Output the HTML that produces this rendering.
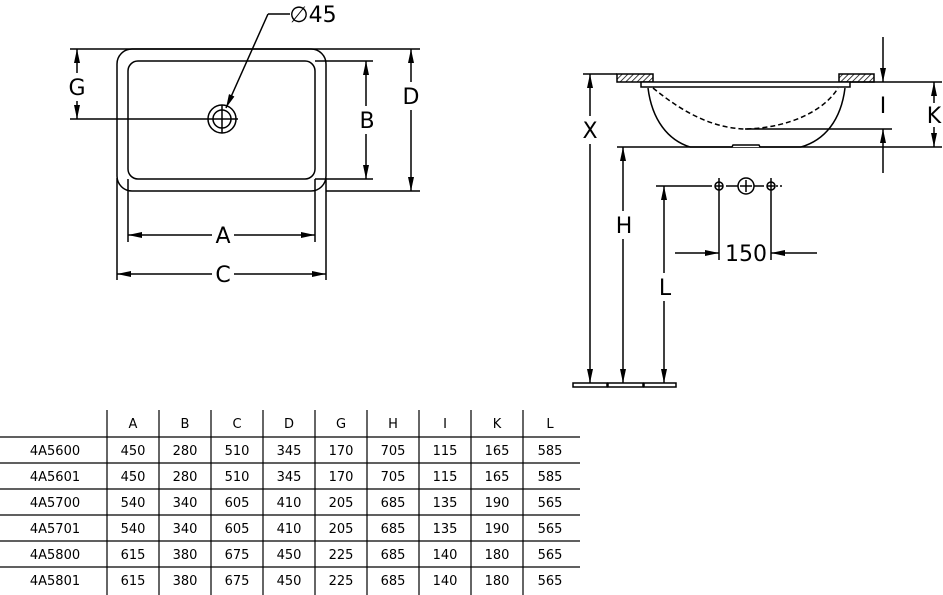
<!DOCTYPE html>
<html><head><meta charset="utf-8"><style>
html,body{margin:0;padding:0;background:#fff;}
svg{display:block;}
text{font-family:"DejaVu Sans","Liberation Sans",sans-serif;fill:#000;}
</style></head><body>
<svg width="943" height="595" viewBox="0 0 943 595" xmlns="http://www.w3.org/2000/svg">
<defs>
<marker id="ar" viewBox="0 0 14 6" refX="14" refY="3" markerWidth="14" markerHeight="6" markerUnits="userSpaceOnUse" orient="auto-start-reverse"><path d="M0,0 L14,3 L0,6 z" fill="#000"/></marker>
<pattern id="hatch" width="4" height="4" patternUnits="userSpaceOnUse" patternTransform="rotate(45)"><line x1="0" y1="0" x2="0" y2="4" stroke="#000" stroke-width="1.5"/></pattern>
</defs>
<g stroke="#000" stroke-width="1.5" fill="none">
<!-- Plan view -->
<line x1="70" y1="49" x2="420" y2="49"/>
<rect x="117" y="49" width="209" height="142" rx="15"/>
<rect x="128" y="61" width="187" height="118" rx="10"/>
<line x1="315" y1="61" x2="373" y2="61"/>
<line x1="315" y1="179" x2="373" y2="179"/>
<line x1="326" y1="191" x2="420" y2="191"/>
<line x1="128" y1="179" x2="128" y2="242"/>
<line x1="315" y1="179" x2="315" y2="242"/>
<line x1="117" y1="178" x2="117" y2="280"/>
<line x1="326" y1="178" x2="326" y2="280"/>
<line x1="128" y1="235" x2="212" y2="235" marker-start="url(#ar)"/>
<line x1="234" y1="235" x2="315" y2="235" marker-end="url(#ar)"/>
<line x1="117" y1="274" x2="212" y2="274" marker-start="url(#ar)"/>
<line x1="234" y1="274" x2="326" y2="274" marker-end="url(#ar)"/>
<line x1="366" y1="61" x2="366" y2="106" marker-start="url(#ar)"/>
<line x1="366" y1="134" x2="366" y2="179" marker-end="url(#ar)"/>
<line x1="411" y1="49" x2="411" y2="82" marker-start="url(#ar)"/>
<line x1="411" y1="110" x2="411" y2="191" marker-end="url(#ar)"/>
<line x1="77" y1="49" x2="77" y2="73" marker-start="url(#ar)"/>
<line x1="77" y1="101" x2="77" y2="119" marker-end="url(#ar)"/>
<line x1="70" y1="119" x2="238" y2="119"/>
<circle cx="222" cy="119" r="14"/>
<circle cx="222" cy="119" r="9"/>
<line x1="222" y1="105" x2="222" y2="133"/>
<line x1="268" y1="14" x2="290" y2="14"/>
<line x1="268" y1="14" x2="226" y2="108" marker-end="url(#ar)"/>
<!-- Side view -->
<line x1="583" y1="74" x2="617" y2="74"/>
<rect x="617" y="74" width="36" height="8" fill="url(#hatch)"/>
<rect x="839" y="74" width="35" height="8" fill="url(#hatch)"/>
<line x1="850" y1="82" x2="942" y2="82"/>
<path d="M648,88 C652,120 668,140 690,147"/>
<path d="M845,88 C841,120 825,140 801,147"/>
<line x1="617" y1="147" x2="942" y2="147"/>
<path d="M690,147 L732,147 L733,145 L759,145 L760,147 L801,147" fill="#fff"/>
<rect x="641" y="82" width="209" height="5" fill="#fff"/>
<path d="M653,88 C680,110 710,128 745,129 C790,128 825,110 838,88" stroke-dasharray="5,3"/>
<line x1="745" y1="129" x2="892" y2="129"/>
<line x1="883" y1="37" x2="883" y2="82" marker-end="url(#ar)"/>
<line x1="883" y1="173" x2="883" y2="129" marker-end="url(#ar)"/>
<line x1="934" y1="82" x2="934" y2="103" marker-start="url(#ar)"/>
<line x1="934" y1="127" x2="934" y2="147" marker-end="url(#ar)"/>
<line x1="590" y1="74" x2="590" y2="116" marker-start="url(#ar)"/>
<line x1="590" y1="144" x2="590" y2="383" marker-end="url(#ar)"/>
<line x1="623" y1="147" x2="623" y2="211" marker-start="url(#ar)"/>
<line x1="623" y1="239" x2="623" y2="383" marker-end="url(#ar)"/>
<line x1="664" y1="186" x2="664" y2="273" marker-start="url(#ar)"/>
<line x1="664" y1="301" x2="664" y2="383" marker-end="url(#ar)"/>
<line x1="656" y1="186" x2="712" y2="186"/>
<line x1="726" y1="186" x2="738" y2="186"/>
<line x1="754" y1="186" x2="764" y2="186"/>
<line x1="776" y1="186" x2="782" y2="186" stroke-dasharray="2,2"/>
<circle cx="719" cy="186" r="4"/>
<circle cx="771" cy="186" r="4"/>
<circle cx="746" cy="186" r="8"/>
<line x1="719" y1="178" x2="719" y2="260"/>
<line x1="771" y1="178" x2="771" y2="260"/>
<line x1="715" y1="186" x2="723" y2="186"/>
<line x1="767" y1="186" x2="775" y2="186"/>
<line x1="740" y1="186" x2="752" y2="186"/>
<line x1="746" y1="180" x2="746" y2="192"/>
<line x1="675" y1="253" x2="719" y2="253" marker-end="url(#ar)"/>
<line x1="817" y1="253" x2="771" y2="253" marker-end="url(#ar)"/>
<rect x="573" y="383" width="34" height="4"/>
<rect x="608" y="383" width="35" height="4"/>
<rect x="644" y="383" width="32" height="4"/>
<!-- table -->
<g stroke-width="1.2">
<line x1="0" y1="437" x2="580" y2="437"/>
<line x1="0" y1="463" x2="580" y2="463"/>
<line x1="0" y1="489" x2="580" y2="489"/>
<line x1="0" y1="515" x2="580" y2="515"/>
<line x1="0" y1="541" x2="580" y2="541"/>
<line x1="0" y1="567" x2="580" y2="567"/>
<line x1="107" y1="410" x2="107" y2="595"/>
<line x1="159" y1="410" x2="159" y2="595"/>
<line x1="211" y1="410" x2="211" y2="595"/>
<line x1="263" y1="410" x2="263" y2="595"/>
<line x1="315" y1="410" x2="315" y2="595"/>
<line x1="367" y1="410" x2="367" y2="595"/>
<line x1="419" y1="410" x2="419" y2="595"/>
<line x1="471" y1="410" x2="471" y2="595"/>
<line x1="523" y1="410" x2="523" y2="595"/>
</g>
</g>
<g font-size="22" text-anchor="middle">
<text x="223" y="243">A</text>
<text x="223" y="282">C</text>
<text x="367" y="128">B</text>
<text x="411" y="104">D</text>
<text x="77" y="95">G</text>
<text x="590" y="138">X</text>
<text x="624" y="233">H</text>
<text x="665" y="295">L</text>
<text x="883" y="113">I</text>
<text x="934" y="123">K</text>
<text x="746" y="261">150</text>
<text x="313" y="22">∅45</text>
</g>
<g font-size="13" text-anchor="middle">
<text x="133" y="428">A</text><text x="185" y="428">B</text><text x="237" y="428">C</text><text x="289" y="428">D</text><text x="341" y="428">G</text><text x="393" y="428">H</text><text x="445" y="428">I</text><text x="497" y="428">K</text><text x="550" y="428">L</text>
<text x="55" y="455">4A5600</text><text x="133" y="455">450</text><text x="185" y="455">280</text><text x="237" y="455">510</text><text x="289" y="455">345</text><text x="341" y="455">170</text><text x="393" y="455">705</text><text x="445" y="455">115</text><text x="497" y="455">165</text><text x="550" y="455">585</text>
<text x="55" y="481">4A5601</text><text x="133" y="481">450</text><text x="185" y="481">280</text><text x="237" y="481">510</text><text x="289" y="481">345</text><text x="341" y="481">170</text><text x="393" y="481">705</text><text x="445" y="481">115</text><text x="497" y="481">165</text><text x="550" y="481">585</text>
<text x="55" y="507">4A5700</text><text x="133" y="507">540</text><text x="185" y="507">340</text><text x="237" y="507">605</text><text x="289" y="507">410</text><text x="341" y="507">205</text><text x="393" y="507">685</text><text x="445" y="507">135</text><text x="497" y="507">190</text><text x="550" y="507">565</text>
<text x="55" y="533">4A5701</text><text x="133" y="533">540</text><text x="185" y="533">340</text><text x="237" y="533">605</text><text x="289" y="533">410</text><text x="341" y="533">205</text><text x="393" y="533">685</text><text x="445" y="533">135</text><text x="497" y="533">190</text><text x="550" y="533">565</text>
<text x="55" y="559">4A5800</text><text x="133" y="559">615</text><text x="185" y="559">380</text><text x="237" y="559">675</text><text x="289" y="559">450</text><text x="341" y="559">225</text><text x="393" y="559">685</text><text x="445" y="559">140</text><text x="497" y="559">180</text><text x="550" y="559">565</text>
<text x="55" y="585">4A5801</text><text x="133" y="585">615</text><text x="185" y="585">380</text><text x="237" y="585">675</text><text x="289" y="585">450</text><text x="341" y="585">225</text><text x="393" y="585">685</text><text x="445" y="585">140</text><text x="497" y="585">180</text><text x="550" y="585">565</text>
</g>
</svg>
</body></html>
